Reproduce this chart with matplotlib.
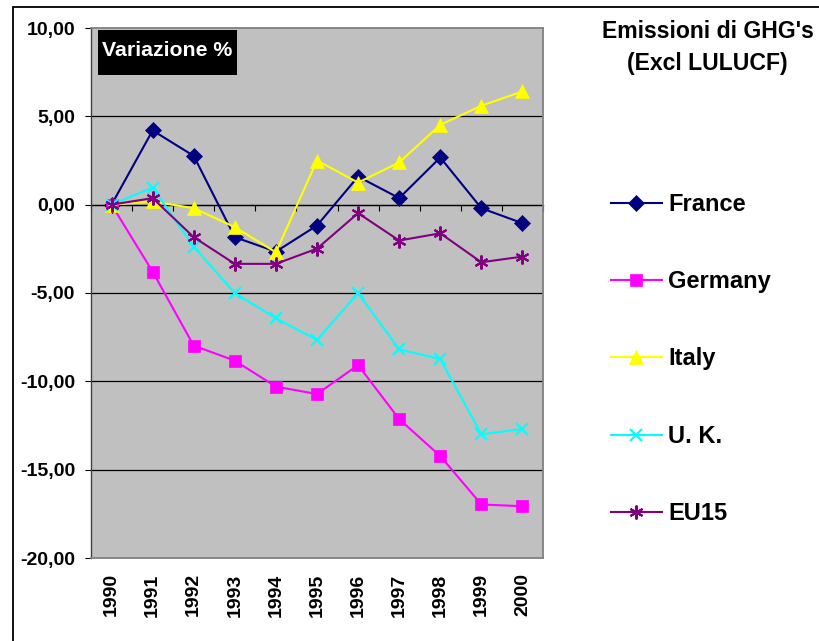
import numpy as np
import matplotlib
matplotlib.use("Agg")
import matplotlib.pyplot as plt
from matplotlib.patches import Rectangle

plt.rcParams['font.family'] = ['Liberation Sans', 'DejaVu Sans']
plt.rcParams['font.weight'] = 'bold'

years = ['1990', '1991', '1992', '1993', '1994', '1995', '1996', '1997', '1998', '1999', '2000']
france = [0.0, 4.20, 2.76, -1.84, -2.66, -1.18, 1.59, 0.37, 2.67, -0.20, -1.05]
germany = [0.0, -3.79, -7.98, -8.83, -10.30, -10.72, -9.08, -12.14, -14.23, -16.97, -17.07]
italy = [0.0, 0.18, -0.20, -1.27, -2.70, 2.50, 1.25, 2.39, 4.52, 5.60, 6.41]
uk = [0.0, 0.97, -2.37, -5.01, -6.43, -7.66, -5.01, -8.19, -8.74, -13.00, -12.70]
eu15 = [0.0, 0.37, -1.84, -3.35, -3.35, -2.49, -0.48, -2.03, -1.62, -3.26, -2.94]

series_names = ['France', 'Germany', 'Italy', 'U. K.', 'EU15']
series_colors = ['#000080', '#FF00FF', '#FFFF00', '#00FFFF', '#800080']
series_markers = ['D', 's', '^', 'x', (6, 2, 0)]
series_ms = [8.5, 9, 9.5, 9, 10]

yticks = [-20, -15, -10, -5, 0, 5, 10]
yticklabels = ['-20,00', '-15,00', '-10,00', '-5,00', '0,00', '5,00', '10,00']
ymin, ymax = -20, 10

W, H = 820, 641
fig = plt.figure(figsize=(W / 100, H / 100), dpi=100)
fig.patch.set_facecolor('white')

# outer frame (left & top visible)
fig.add_artist(Rectangle((13 / W, -0.05), 1.2, (H - 7) / H + 0.05, transform=fig.transFigure,
                         fill=False, edgecolor='black', linewidth=1.3))

left, right, top, bottom = 91, 543, 28, 558
ax = fig.add_axes([left / W, 1 - bottom / H, (right - left) / W, (bottom - top) / H])
ax.set_facecolor('#C0C0C0')

x = np.arange(len(years))
for data, name, c, m, ms in zip([france, germany, italy, uk, eu15], series_names,
                                series_colors, series_markers, series_ms):
    ax.plot(x, data, color=c, marker=m, markersize=ms, linewidth=1.5,
            markeredgewidth=1.5 if m in ('x',) or isinstance(m, tuple) else 0.5,
            markeredgecolor=c, markerfacecolor=c, label=name, zorder=3)

ax.set_xlim(-0.5, len(years) - 0.5)
ax.set_ylim(ymin, ymax)

ax.set_yticks(yticks, yticklabels)
ax.tick_params(axis='y', direction='out', length=4.5, width=0.8, pad=7, labelsize=14, colors='black')
for lbl in ax.get_yticklabels():
    lbl.set_fontweight('bold')

ax.set_xticks(x, years, rotation=90)
ax.tick_params(axis='x', length=0, pad=11, labelsize=14)
for lbl in ax.get_xticklabels():
    lbl.set_fontweight('bold')

for yv in yticks[1:-1]:
    ax.axhline(yv, color='black', linewidth=0.9, zorder=1)

for s in ['top', 'right', 'bottom']:
    ax.spines[s].set_color('#808080')
    ax.spines[s].set_linewidth(1.3)
ax.spines['left'].set_color('#404040')
ax.spines['left'].set_linewidth(1.0)

# category axis crossing at zero
loc0 = (0 - ymin) / (ymax - ymin)
sec = ax.secondary_xaxis(loc0)
sec.set_xticks(np.arange(-0.5, len(years), 1.0))
sec.tick_params(direction='in', length=4.5, width=0.8, labeltop=False, labelbottom=False, colors='black')
for s in sec.spines.values():
    s.set_color('black')
    s.set_linewidth(0.9)

# "Variazione %" label box
ax.add_patch(Rectangle(((98 - left) / (right - left), (bottom - 75) / (bottom - top)),
                       139 / (right - left), 45 / (bottom - top), transform=ax.transAxes,
                       facecolor='black', edgecolor='none', zorder=4))
ax.text((167.5 - left) / (right - left), (bottom - 56) / (bottom - top), 'Variazione %',
        transform=ax.transAxes, color='white', fontsize=15.3, fontweight='bold',
        ha='center', va='baseline', zorder=5)

# title
fig.text(707.5 / W, 1 - 38.3 / H, "Emissioni di GHG's", ha='center', va='baseline',
         fontsize=16.6, fontweight='bold')
fig.text(707.5 / W, 1 - 70 / H, "(Excl LULUCF)", ha='center', va='baseline',
         fontsize=16.6, fontweight='bold')

handles, labels = ax.get_legend_handles_labels()
fig.legend(handles, labels, loc='center left', bbox_to_anchor=(611 / W, 1 - 359 / H),
           frameon=False, prop={'weight': 'bold', 'size': 17},
           handlelength=2.16, handletextpad=0.25, labelspacing=2.30,
           borderpad=0, borderaxespad=0)

fig.savefig('out.png', dpi=100)
